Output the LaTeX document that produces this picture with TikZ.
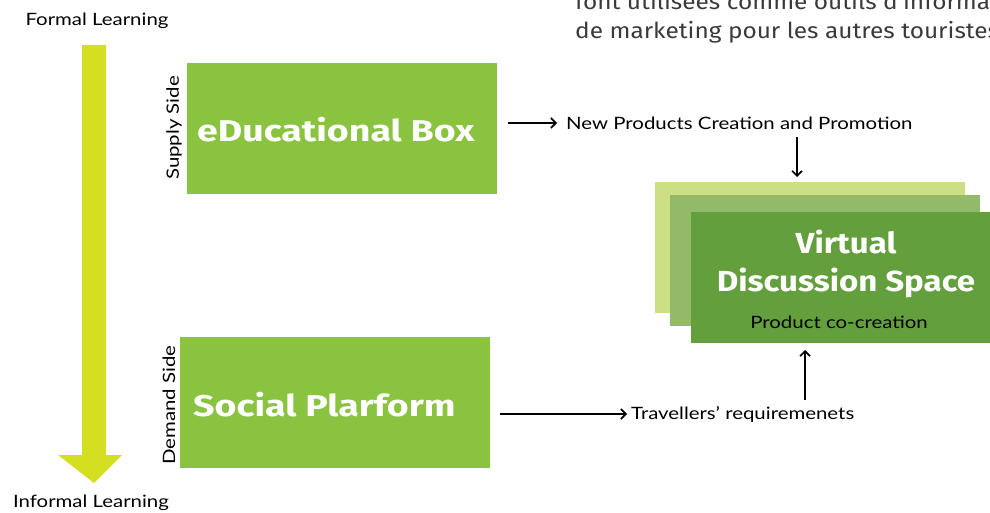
\documentclass[tikz,border=0pt]{standalone}
\usepackage{fontspec}
\setmainfont{Lato}[FakeStretch=1.2]
\newfontfamily\handfont{Fira Sans}[UprightFont=* Bold, FakeStretch=1.25]
\newfontfamily\vdsfont{Fira Sans}[UprightFont=* Bold, FakeStretch=1.14]
\newfontfamily\dinfont{Fira Sans}[FakeStretch=1.11]
\usetikzlibrary{arrows.meta}
\definecolor{arrowyellow}{HTML}{D5DF22}
\definecolor{boxgreen}{HTML}{89C340}
\definecolor{layerone}{HTML}{CDDF85}
\definecolor{layertwo}{HTML}{93BA68}
\definecolor{layerthree}{HTML}{63A03D}
\definecolor{txtgray}{HTML}{3A3A3A}
\begin{document}
\begin{tikzpicture}[x=1pt,y=-1pt,
  lbl/.style={font=\fontsize{17}{19}\selectfont, text=black, inner sep=0pt},
  title/.style={font=\handfont\fontsize{30}{34}\selectfont, text=white, inner sep=0pt},
  conn/.style={draw=black, line width=1.6pt, -{Straight Barb[length=5pt,width=10pt,line width=1.6pt]}},
  greenbox/.style={fill=boxgreen, draw=none}]
\useasboundingbox (0,0) rectangle (990,513);
\clip (0,0) rectangle (990,513);
% top right cropped text
\node[anchor=base west, inner sep=0pt, text=txtgray, font=\dinfont\fontsize{22}{24}\selectfont] (toptxt1) at (575,10) {font utilisées comme outils d'information};
\node[anchor=base west, inner sep=0pt, text=txtgray, font=\dinfont\fontsize{22}{24}\selectfont] (toptxt2) at (575,39) {de marketing pour les autres touristes};
% learning arrow
\node[lbl] (formal) at (97,21) {Formal Learning};
\node[lbl] (informal) at (91,503) {Informal Learning};
\fill[arrowyellow] (82,45) -- (106,45) -- (106,455) -- (122,455) -- (94,483) -- (58,455) -- (82,455) -- cycle;
% boxes
\fill[greenbox] (187,63) rectangle (497,194);
\node[title, anchor=west] (edu) at (197,130) {eDucational Box};
\coordinate (eduR) at (508,123);
\node[lbl, rotate=90] (supply) at (174,128) {Supply Side};
\fill[greenbox] (180,337) rectangle (490,468);
\node[title, anchor=west] (social) at (193,405) {Social Plarform};
\coordinate (socR) at (500,414);
\node[lbl, rotate=90] (demand) at (169,405) {Demand Side};
% stacked layers
\fill[layerone] (655,182) rectangle (965,313);
\fill[layertwo] (670,195) rectangle (980,326);
\fill[layerthree] (691,212) rectangle (1001,343);
\node[title, align=center, anchor=north, font=\vdsfont\fontsize{29}{38}\selectfont] (vds) at (846,230) {Virtual\\Discussion Space};
\node[lbl] (coc) at (839,322) {Product co-creation};
% connectors
\node[lbl, anchor=west] (npc) at (566,123) {New Products Creation and Promotion};
\node[lbl, anchor=west] (treq) at (631,414) {Travellers' requiremenets};
\draw[conn, shorten >=9pt] (eduR) -- (npc.west);
\draw[conn, shorten >=4pt] (socR) -- (treq.west);
\coordinate (dtop) at (797,137);
\coordinate (dbot) at (797,177);
\draw[conn] (dtop) -- (dbot);
\coordinate (ubot) at (805,400);
\coordinate (utop) at (805,350);
\draw[conn] (ubot) -- (utop);
\end{tikzpicture}
\end{document}
